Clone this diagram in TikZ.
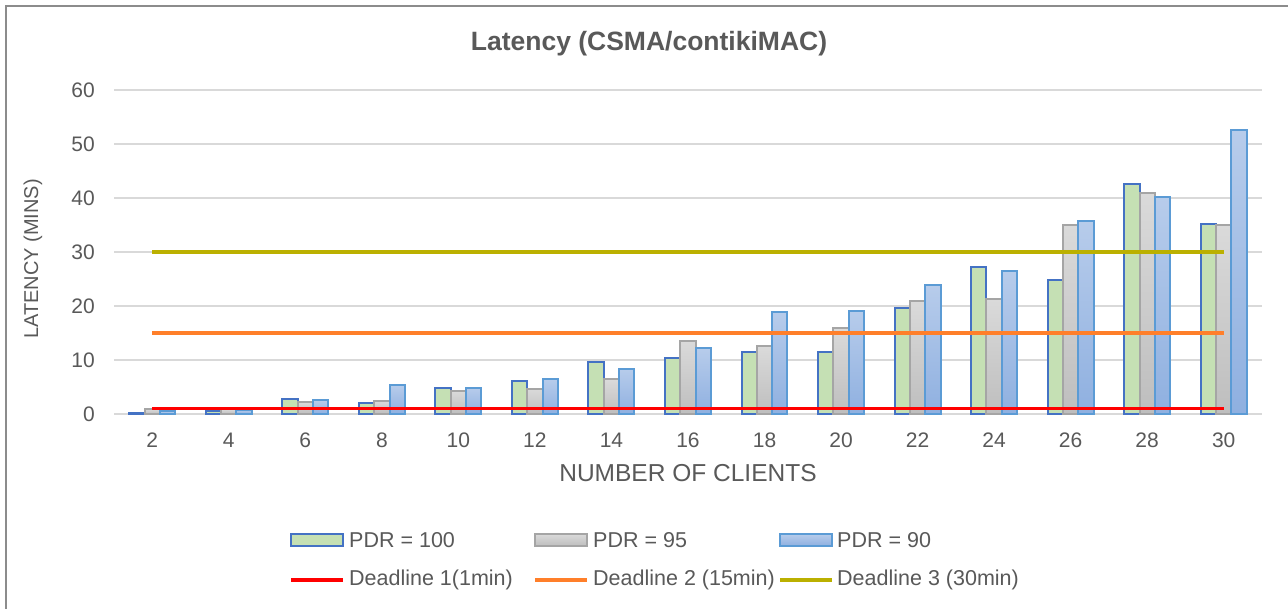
\documentclass[tikz,border=0pt]{standalone}
\usepackage{fontspec}
\setmainfont{Liberation Sans}
\definecolor{txt}{HTML}{595959}
\definecolor{grid}{HTML}{D9D9D9}
\definecolor{frame}{HTML}{8C8C8C}
\definecolor{gEdge}{HTML}{4472C4}
\definecolor{gFill}{HTML}{C5E0B4}
\definecolor{sEdge}{HTML}{A5A5A5}
\definecolor{sTop}{HTML}{DADADA}
\definecolor{sBot}{HTML}{BEBEBE}
\definecolor{bEdge}{HTML}{5B9BD5}
\definecolor{bTop}{HTML}{B7CCEB}
\definecolor{bBot}{HTML}{8FB0E0}
\definecolor{dRed}{HTML}{FF0000}
\definecolor{dOrange}{HTML}{FF7F2A}
\definecolor{dOlive}{HTML}{BBB000}
\tikzset{
  lbl/.style={text=txt, inner sep=0pt, font=\fontsize{21}{25}\selectfont},
  leglbl/.style={lbl, anchor=west, font=\fontsize{21.5}{25}\selectfont},
  gridline/.style={draw=grid, line width=1.6pt},
  greenbar/.style={draw=gEdge, fill=gFill, line width=2pt},
  graybar/.style={draw=sEdge, top color=sTop, bottom color=sBot, line width=2pt},
  bluebar/.style={draw=bEdge, top color=bTop, bottom color=bBot, line width=2pt},
  deadline/.style={line width=3.2pt},
}
\begin{document}
\begin{tikzpicture}[x=1pt,y=-1pt]
\useasboundingbox (0,0) rectangle (1288,609);
\fill[white] (0,0) rectangle (1288,609);
% frame
\draw[frame, line width=1.6pt] (6,609) -- (6,6) -- (1288,6);
% title
\node[lbl, font=\fontsize{26.5}{30}\selectfont\bfseries] (title) at (649,44) {Latency (CSMA/contikiMAC)};
% gridlines and y tick labels
\foreach \v in {0,10,...,60} {
  \pgfmathsetmacro\yy{414-\v*5.4}
  \draw[gridline] (114,\yy) -- (1262,\yy);
  \node[lbl, anchor=east] (ytick\v) at (95,\yy) {\v};
}
% bars
\foreach \k/\g/\s/\b [count=\i] in {
  2/0.2/0.9/0.5, 4/0.6/0.9/0.8, 6/2.8/2.2/2.5, 8/2.1/2.4/5.4,
  10/4.9/4.3/4.9, 12/6.1/4.7/6.5, 14/9.6/6.4/8.4, 16/10.3/13.5/12.2,
  18/11.4/12.5/18.9, 20/11.5/16.0/19.1, 22/19.6/21.0/23.8,
  24/27.2/21.3/26.5, 26/24.8/35.0/35.7, 28/42.5/41.0/40.2, 30/35.2/35.0/52.6} {
  \pgfmathsetmacro\cx{152.27+(\i-1)*76.53}
  \draw[greenbar] ({\cx-22.96},414) rectangle ({\cx-7.65},{414-\g*5.4});
  \draw[graybar] ({\cx-7.65},414) rectangle ({\cx+7.65},{414-\s*5.4});
  \draw[bluebar] ({\cx+7.65},414) rectangle ({\cx+22.96},{414-\b*5.4});
  \node[lbl] (xtick\k) at (\cx,440) {\k};
}
% deadlines
\draw[deadline, dRed] (152.27,408.6) -- (1223.7,408.6);
\draw[deadline, dOrange] (152.27,333) -- (1223.7,333);
\draw[deadline, dOlive] (152.27,252) -- (1223.7,252);
% axis titles
\node[lbl, font=\fontsize{24.5}{28}\selectfont] (xtitle) at (688,473) {NUMBER OF CLIENTS};
\node[lbl, rotate=90, font=\fontsize{20}{24}\selectfont] (ytitle) at (33,259) {LATENCY (MINS)};
% legend row 1
\draw[greenbar] (291,534) rectangle (343,546);
\node[leglbl] (leg1) at (349,540) {PDR = 100};
\draw[graybar] (535,534) rectangle (587,546);
\node[leglbl] (leg2) at (593,540) {PDR = 95};
\draw[bluebar] (780,534) rectangle (832,546);
\node[leglbl] (leg3) at (837,540) {PDR = 90};
% legend row 2
\draw[deadline, dRed] (291,580) -- (343,580);
\node[leglbl] (leg4) at (349,580) {Deadline 1(1min)};
\draw[deadline, dOrange] (535,580) -- (587,580);
\node[leglbl] (leg5) at (593,580) {Deadline 2 (15min)};
\draw[deadline, dOlive] (780,580) -- (832,580);
\node[leglbl] (leg6) at (837,580) {Deadline 3 (30min)};
\end{tikzpicture}
\end{document}
